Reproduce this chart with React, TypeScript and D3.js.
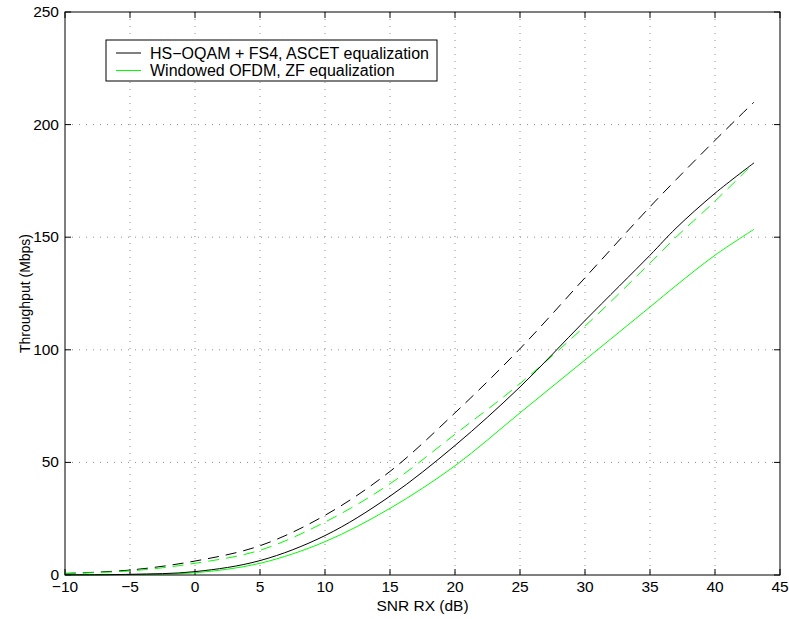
import React from "react";
import * as d3 from "d3";

const xs = [-10, -5, 0, 5, 10, 15, 20, 25, 30, 35, 37, 40, 43];
const hsOqamSolid = [0.1, 0.3, 1.5, 6.4, 17.5, 35, 57.5, 83.5, 113, 142, 154, 169.5, 183];
const hsOqamDashed = [0.7, 2.2, 6.2, 13, 26.5, 46, 72, 100.5, 132, 163.5, 175.5, 193, 210];
const ofdmSolid = [0, 0.2, 1, 5.2, 14.8, 29.6, 48.5, 72, 95.5, 119, 128.5, 142, 153.5];
const ofdmDashed = [0.7, 1.8, 5.2, 11, 23.5, 40.5, 62.5, 85, 110.5, 138.5, 150, 166, 183];

const xTicks = [-10, -5, 0, 5, 10, 15, 20, 25, 30, 35, 40, 45];
const yTicks = [0, 50, 100, 150, 200, 250];
const legendLabels = ["HS\u2212OQAM + FS4, ASCET equalization", "Windowed OFDM, ZF equalization"];

const BLACK = "#000000";
const GREEN = "#00ff00";

export default function App() {
  const W = 789, H = 619;
  const left = 65, right = 780, top = 12, bottom = 575;
  const x = d3.scaleLinear().domain([-10, 45]).range([left, right]);
  const y = d3.scaleLinear().domain([0, 250]).range([bottom, top]);
  const line = d3
    .line<[number, number]>()
    .x((d) => x(d[0]))
    .y((d) => y(d[1]))
    .curve(d3.curveCatmullRom.alpha(0.5));
  const pts = (vals: number[]) => xs.map((v, i) => [v, vals[i]] as [number, number]);
  const font = "'Liberation Sans', Arial, Helvetica, sans-serif";
  const fs = 15.5;
  const tickLen = 6;
  const series = [
    { vals: hsOqamDashed, color: BLACK, dash: "11,7" },
    { vals: ofdmDashed, color: GREEN, dash: "11,7" },
    { vals: ofdmSolid, color: GREEN, dash: undefined },
    { vals: hsOqamSolid, color: BLACK, dash: undefined },
  ];
  return (
    <svg
      width={W}
      height={H}
      style={{ position: "absolute", left: 0, top: 0, display: "block", background: "#fff" }}
      fontFamily={font}
    >
      <rect x={0} y={0} width={W} height={H} fill="#fff" />
      {xTicks.slice(1, -1).map((t) => (
        <line key={"gx" + t} x1={x(t)} x2={x(t)} y1={top} y2={bottom} stroke="#909090" strokeWidth={1} strokeDasharray="1,6" />
      ))}
      {yTicks.slice(1, -1).map((t) => (
        <line key={"gy" + t} x1={left} x2={right} y1={y(t)} y2={y(t)} stroke="#909090" strokeWidth={1} strokeDasharray="1,6" />
      ))}
      {xTicks.map((t) => (
        <g key={"tx" + t}>
          <line x1={x(t)} x2={x(t)} y1={bottom} y2={bottom - tickLen} stroke="#000" />
          <line x1={x(t)} x2={x(t)} y1={top} y2={top + tickLen} stroke="#000" />
          <text x={x(t)} y={592} fontSize={fs} textAnchor="middle" fill="#000">
            {t < 0 ? "\u2212" + Math.abs(t) : String(t)}
          </text>
        </g>
      ))}
      {yTicks.map((t) => (
        <g key={"ty" + t}>
          <line x1={left} x2={left + tickLen} y1={y(t)} y2={y(t)} stroke="#000" />
          <line x1={right} x2={right - tickLen} y1={y(t)} y2={y(t)} stroke="#000" />
          <text x={59} y={y(t) + 5} fontSize={fs} textAnchor="end" fill="#000">
            {t}
          </text>
        </g>
      ))}
      {series.map((s, i) => (
        <path
          key={"s" + i}
          d={line(pts(s.vals)) || ""}
          fill="none"
          stroke={s.color}
          strokeWidth={1}
          strokeDasharray={s.dash}
        />
      ))}
      <rect x={left} y={top} width={right - left} height={bottom - top} fill="none" stroke="#000" strokeWidth={1} />
      <text x={(left + right) / 2} y={611} fontSize={fs} textAnchor="middle" fill="#000">
        SNR RX (dB)
      </text>
      <text
        transform={`translate(30, ${(top + bottom) / 2}) rotate(-90)`}
        fontSize={14}
        textAnchor="middle"
        fill="#000"
      >
        Throughput (Mbps)
      </text>
      <g>
        <rect x={106} y={40} width={331} height={41} fill="#fff" stroke="#000" strokeWidth={1} />
        <line x1={116} x2={141} y1={53} y2={53} stroke={BLACK} strokeWidth={1} />
        <text x={150} y={58.5} fontSize={16} fill="#000">{legendLabels[0]}</text>
        <line x1={116} x2={141} y1={70.5} y2={70.5} stroke={GREEN} strokeWidth={1} />
        <text x={150} y={76} fontSize={16} fill="#000">{legendLabels[1]}</text>
      </g>
    </svg>
  );
}
